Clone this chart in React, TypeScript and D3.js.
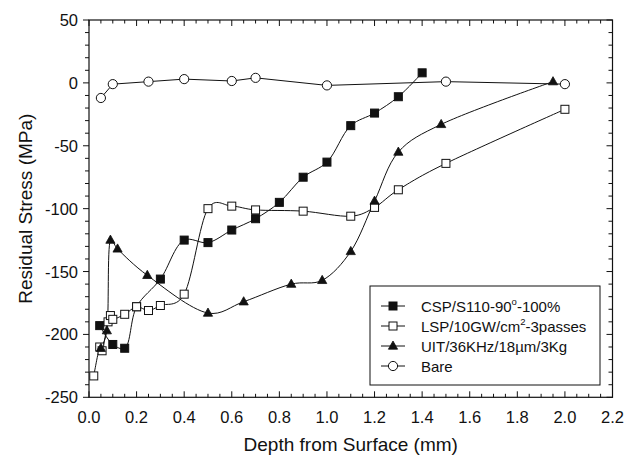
import React, { useEffect, useRef } from 'react';
import * as d3 from 'd3';

// Depth from surface (mm) / residual stress (MPa)
const cspDepth = [0.045, 0.1, 0.15, 0.2, 0.3, 0.4, 0.5, 0.6, 0.7, 0.8, 0.9, 1.0, 1.1, 1.2, 1.3, 1.4];
const cspStress = [-193, -208, -211, -178, -156, -125, -127, -117, -108, -95, -75, -63, -34, -24, -11, 8];

const lspDepth = [0.02, 0.045, 0.055, 0.08, 0.09, 0.1, 0.15, 0.2, 0.25, 0.3, 0.4, 0.5, 0.6, 0.7, 0.9, 1.1, 1.2, 1.3, 1.5, 2.0];
const lspStress = [-233, -210, -213, -190, -185, -188, -184, -178, -181, -177, -168, -100, -98, -101, -102, -106, -99, -85, -64, -21];

const uitDepth = [0.05, 0.075, 0.09, 0.12, 0.245, 0.5, 0.65, 0.85, 0.98, 1.1, 1.2, 1.3, 1.48, 1.95];
const uitStress = [-211, -197, -125, -132, -153, -183, -174, -160, -157, -134, -94, -55, -33, 1];

const bareDepth = [0.05, 0.1, 0.25, 0.4, 0.6, 0.7, 1.0, 1.5, 2.0];
const bareStress = [-12, -1, 1, 3, 1.5, 4, -2, 1, -1];

const xTicks = [0, 0.2, 0.4, 0.6, 0.8, 1.0, 1.2, 1.4, 1.6, 1.8, 2.0, 2.2];
const yTicks = [50, 0, -50, -100, -150, -200, -250];

const FONT = '"Liberation Sans", Arial, Helvetica, sans-serif';
const INK = '#111';

const App = () => {
  const svgRef = useRef(null);

  useEffect(() => {
    const svg = d3.select(svgRef.current);
    svg.selectAll('*').remove();
    const margin = { top: 20, right: 16.5, bottom: 59.7, left: 89 };
    const width = 629 - margin.left - margin.right;
    const height = 457 - margin.top - margin.bottom;

    const x = d3.scaleLinear().domain([0, 2.2]).range([0, width]);
    const y = d3.scaleLinear().domain([-250, 50]).range([height, 0]);

    const g = svg.append('g').attr('transform', `translate(${margin.left},${margin.top})`);

    // frame
    g.append('rect')
      .attr('width', width).attr('height', height)
      .attr('fill', 'none').attr('stroke', INK).attr('stroke-width', 1.2);

    const xMinor = d3.range(0, 2.2001, 0.05);
    const yMinor = d3.range(-250, 50.01, 10);

    // bottom & top ticks (inward)
    [height, 0].forEach((yy, i) => {
      const dir = i === 0 ? -1 : 1;
      g.append('g').selectAll('line').data(xMinor).enter().append('line')
        .attr('x1', d => x(d)).attr('x2', d => x(d))
        .attr('y1', yy)
        .attr('y2', d => yy + dir * (Math.abs(d * 5 - Math.round(d * 5)) < 1e-6 ? 6 : 3.5))
        .attr('stroke', INK).attr('stroke-width', 1);
    });
    // left ticks (outward) & right ticks (inward)
    g.append('g').selectAll('line').data(yMinor).enter().append('line')
      .attr('x1', 0)
      .attr('x2', d => (Math.round(d) % 50 === 0 ? -6 : -4))
      .attr('y1', d => y(d)).attr('y2', d => y(d))
      .attr('stroke', INK).attr('stroke-width', 1);
    g.append('g').selectAll('line').data(yMinor).enter().append('line')
      .attr('x1', width)
      .attr('x2', d => width - (Math.round(d) % 50 === 0 ? 6 : 4))
      .attr('y1', d => y(d)).attr('y2', d => y(d))
      .attr('stroke', INK).attr('stroke-width', 1);

    // tick labels
    g.append('g').selectAll('text').data(xTicks).enter().append('text')
      .attr('x', d => x(d)).attr('y', height + 25.5)
      .attr('text-anchor', 'middle')
      .style('font-family', FONT).style('font-size', '16.5px').attr('fill', INK)
      .text(d => d.toFixed(1));
    g.append('g').selectAll('text').data(yTicks).enter().append('text')
      .attr('x', -11).attr('y', d => y(d) + 6)
      .attr('text-anchor', 'end')
      .style('font-family', FONT).style('font-size', '16.5px').attr('fill', INK)
      .text(d => String(d));

    // axis titles
    svg.append('text')
      .attr('x', margin.left + width / 2).attr('y', 451)
      .attr('text-anchor', 'middle')
      .style('font-family', FONT).style('font-size', '19px').attr('fill', INK)
      .text('Depth from Surface (mm)');
    svg.append('text')
      .attr('transform', `translate(32,${margin.top + y(-100)}) rotate(-90)`)
      .attr('text-anchor', 'middle')
      .style('font-family', FONT).style('font-size', '19px').attr('fill', INK)
      .text('Residual Stress (MPa)');

    const series = [
      { name: 'csp', xs: cspDepth, ys: cspStress, marker: 'square', fill: INK, curve: d3.curveCatmullRom.alpha(0.5) },
      { name: 'lsp', xs: lspDepth, ys: lspStress, marker: 'square', fill: '#fff', curve: d3.curveCatmullRom.alpha(0.1) },
      { name: 'uit', xs: uitDepth, ys: uitStress, marker: 'triangle', fill: INK, curve: d3.curveCatmullRom.alpha(0.3) },
      { name: 'bare', xs: bareDepth, ys: bareStress, marker: 'circle', fill: '#fff', curve: d3.curveLinear },
    ];

    const drawMarker = (sel, marker, fill) => {
      if (marker === 'square') {
        sel.append('rect').attr('x', -4).attr('y', -4).attr('width', 8).attr('height', 8)
          .attr('fill', fill).attr('stroke', INK).attr('stroke-width', 1);
      } else if (marker === 'triangle') {
        sel.append('path').attr('d', 'M0,-5L4.6,3.2L-4.6,3.2Z')
          .attr('fill', fill).attr('stroke', INK).attr('stroke-width', 0.8);
      } else {
        sel.append('circle').attr('r', 4.6)
          .attr('fill', fill).attr('stroke', INK).attr('stroke-width', 1);
      }
    };

    series.forEach(s => {
      const pts = s.xs.map((d, i) => [d, s.ys[i]]);
      const line = d3.line().x(d => x(d[0])).y(d => y(d[1])).curve(s.curve);
      g.append('path').datum(pts)
        .attr('d', line).attr('fill', 'none').attr('stroke', INK).attr('stroke-width', 1);
    });
    series.forEach(s => {
      const pts = s.xs.map((d, i) => [d, s.ys[i]]);
      g.append('g').selectAll('g').data(pts).enter().append('g')
        .attr('transform', d => `translate(${x(d[0])},${y(d[1])})`)
        .each(function () { drawMarker(d3.select(this), s.marker, s.fill); });
    });

    // legend
    const lg = svg.append('g').attr('transform', 'translate(370,286)');
    lg.append('rect').attr('width', 230).attr('height', 99)
      .attr('fill', '#fff').attr('stroke', INK).attr('stroke-width', 1);
    const rows = [
      { s: series[0], label: ['CSP/S110-90', 'o', '-100%'] },
      { s: series[1], label: ['LSP/10GW/cm', '2', '-3passes'] },
      { s: series[2], label: ['UIT/36KHz/18\u00b5m/3Kg'] },
      { s: series[3], label: ['Bare'] },
    ];
    rows.forEach((r, i) => {
      const ry = 20 + i * 20;
      lg.append('line').attr('x1', 11).attr('x2', 35).attr('y1', ry).attr('y2', ry)
        .attr('stroke', INK).attr('stroke-width', 1);
      drawMarker(lg.append('g').attr('transform', `translate(23,${ry})`), r.s.marker, r.s.fill);
      const t = lg.append('text').attr('x', 51).attr('y', ry + 5.5)
        .style('font-family', FONT).style('font-size', '15px').attr('fill', INK);
      t.append('tspan').text(r.label[0]);
      if (r.label.length > 1) {
        t.append('tspan').attr('dy', -6.5).style('font-size', '9.5px').text(r.label[1]);
        t.append('tspan').attr('dy', 6.5).text(r.label[2]);
      }
    });
  }, []);

  return (
    <svg ref={svgRef} width="629" height="457"
      style={{ position: 'absolute', left: 0, top: 0, background: '#fff' }}>
    </svg>
  );
};

export default App;
